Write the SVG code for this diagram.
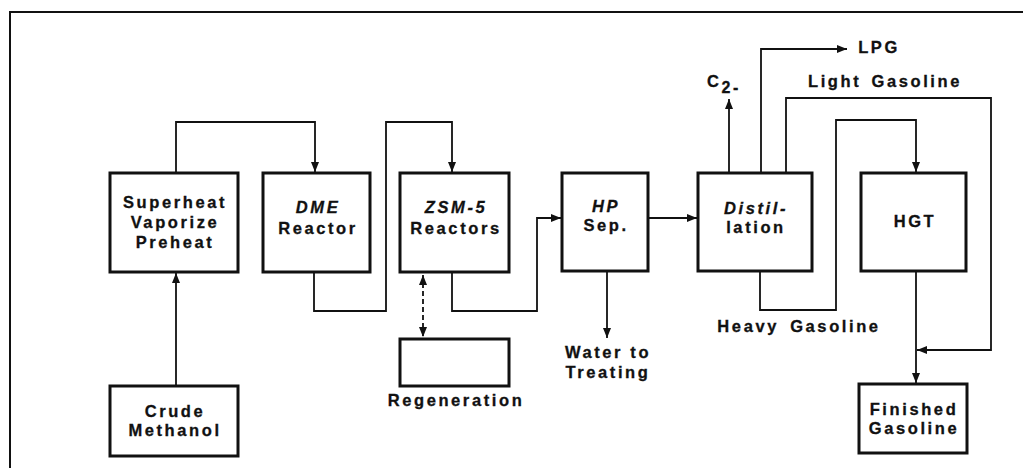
<svg xmlns="http://www.w3.org/2000/svg" width="1023" height="468" viewBox="0 0 1023 468">
<defs>
<marker id="ah" viewBox="0 0 10 8" refX="10" refY="4" markerWidth="10" markerHeight="8" markerUnits="userSpaceOnUse" orient="auto"><path d="M0,0 L10,4 L0,8 Z" fill="#111"/></marker>
<marker id="ahs" viewBox="0 0 10 8" refX="10" refY="4" markerWidth="10" markerHeight="8" markerUnits="userSpaceOnUse" orient="auto-start-reverse"><path d="M0,0 L10,4 L0,8 Z" fill="#111"/></marker>
</defs>
<style>
.box{fill:#fff;stroke:#111;stroke-width:3}
.ln{fill:none;stroke:#111;stroke-width:1.8}
.t{font-family:"Liberation Sans",Arial,sans-serif;font-weight:bold;font-size:16.5px;letter-spacing:2.6px;fill:#111;stroke:#111;stroke-width:0.3;text-anchor:middle}
.i{font-style:italic}
</style>
<rect width="1023" height="468" fill="#fff"/>
<path d="M10,468 V12 H1023" fill="none" stroke="#111" stroke-width="2"/>
<g id="connectors">
<path class="ln" d="M176,173 V122 H315 V172" marker-end="url(#ah)"/>
<path class="ln" d="M314,272 V311 H386 V122 H452 V172" marker-end="url(#ah)"/>
<path class="ln" d="M452,272 V311 H537 V218 H561" marker-end="url(#ah)"/>
<path class="ln" d="M648,218 H697" marker-end="url(#ah)"/>
<path class="ln" d="M607,271 V338" marker-end="url(#ah)"/>
<path class="ln" d="M176,386 V273" marker-end="url(#ah)"/>
<path class="ln" d="M423,275 V337" stroke-dasharray="5,3" marker-start="url(#ahs)" marker-end="url(#ah)"/>
<path class="ln" d="M729,173 V99" marker-end="url(#ah)"/>
<path class="ln" d="M761,173 V49 H847" marker-end="url(#ah)"/>
<path class="ln" d="M786,173 V98 H991 V350 H917" marker-end="url(#ah)"/>
<path class="ln" d="M760,271 V310 H836 V120 H916 V172" marker-end="url(#ah)"/>
<path class="ln" d="M916,271 V383" marker-end="url(#ah)"/>
</g>
<g id="superheat"><rect class="box" x="110" y="173" width="128" height="99"/>
<text class="t" x="175" y="208">Superheat</text><text class="t" x="175" y="228">Vaporize</text><text class="t" x="175" y="248">Preheat</text></g>
<g id="dme"><rect class="box" x="263" y="173" width="107" height="99"/>
<text class="t i" x="318" y="213">DME</text><text class="t" x="318" y="234">Reactor</text></g>
<g id="zsm5"><rect class="box" x="400" y="173" width="109" height="99"/>
<text class="t i" x="456" y="213">ZSM-5</text><text class="t" x="456" y="234">Reactors</text></g>
<g id="hpsep"><rect class="box" x="562" y="173" width="86" height="98"/>
<text class="t i" x="606" y="212">HP</text><text class="t" x="606" y="231">Sep.</text></g>
<g id="distillation"><rect class="box" x="698" y="173" width="114" height="98"/>
<text class="t i" x="756" y="214">Distil-</text><text class="t" x="756" y="233">lation</text></g>
<g id="hgt"><rect class="box" x="861" y="173" width="105" height="98"/>
<text class="t" x="915" y="227">HGT</text></g>
<g id="crude"><rect class="box" x="110" y="386" width="128" height="70"/>
<text class="t" x="175" y="417">Crude</text><text class="t" x="175" y="436">Methanol</text></g>
<g id="regeneration"><rect class="box" x="400" y="339" width="109" height="47"/>
<text class="t" x="456" y="406">Regeneration</text></g>
<g id="finished"><rect class="box" x="859" y="384" width="108" height="69"/>
<text class="t" x="914" y="415">Finished</text><text class="t" x="914" y="434">Gasoline</text></g>
<g id="labels">
<text class="t" x="608" y="358">Water to</text><text class="t" x="608" y="378">Treating</text>
<text class="t" x="799" y="332" word-spacing="4">Heavy Gasoline</text>
<text class="t" x="885" y="87" word-spacing="3">Light Gasoline</text>
<text class="t" x="879" y="53">LPG</text>
<text class="t" x="707" y="87" style="text-anchor:start">C<tspan font-size="16" dy="6">2-</tspan></text>
</g>
</svg>
